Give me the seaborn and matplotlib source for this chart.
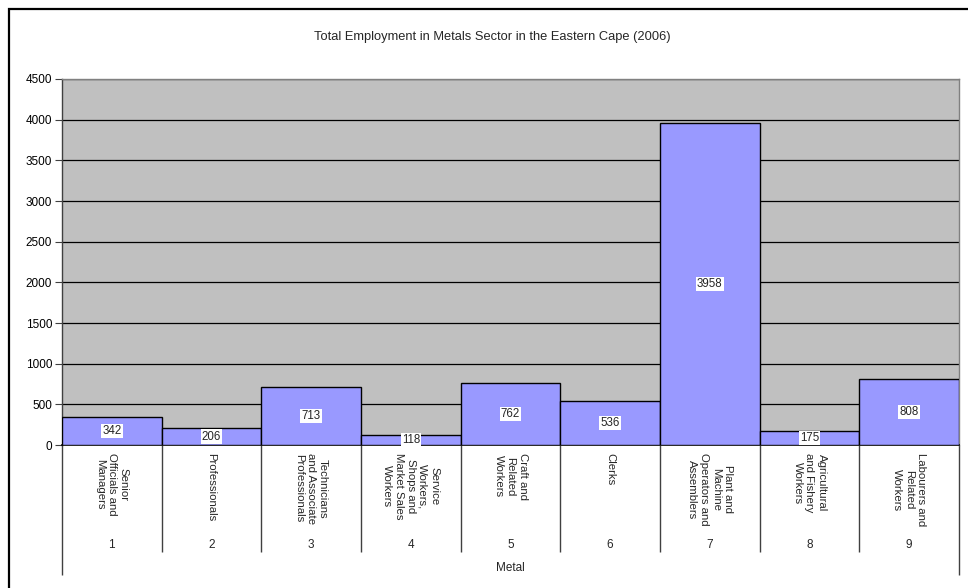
import matplotlib
matplotlib.use("Agg")
import matplotlib.pyplot as plt
import matplotlib.transforms as mtransforms
from matplotlib.patches import Rectangle
import seaborn as sns
import pandas as pd

# Occupation groups (major group codes) and employment counts
codes = ["1", "2", "3", "4", "5", "6", "7", "8", "9"]
occupations = [
    "Senior\nOfficials and\nManagers",
    "Professionals",
    "Technicians\nand Associate\nProfessionals",
    "Service\nWorkers,\nShops and\nMarket Sales\nWorkers",
    "Craft and\nRelated\nWorkers",
    "Clerks",
    "Plant and\nMachine\nOperators and\nAssemblers",
    "Agricultural\nand Fishery\nWorkers",
    "Labourers and\nRelated\nWorkers",
]
employment = [342, 206, 713, 118, 762, 536, 3958, 175, 808]
y_ticks = list(range(0, 4501, 500))

sns.set_theme(style="white")
plt.rcParams["font.family"] = ["Liberation Sans", "DejaVu Sans"]

W, H = 968, 588
fig = plt.figure(figsize=(W / 100, H / 100), dpi=100)
fig.patch.set_facecolor("white")
ax = fig.add_axes([62 / W, 1 - 445 / H, (959 - 62) / W, (445 - 79) / H])

df = pd.DataFrame({"code": codes, "employment": employment})
sns.barplot(data=df, x="code", y="employment", color="#9999FF", saturation=1,
            width=1, edgecolor="black", linewidth=1.0, ax=ax, zorder=3)

ax.set_facecolor("#C0C0C0")
ax.set_xlim(-0.5, len(codes) - 0.5)
ax.set_ylim(0, 4500)
ax.set_yticks(y_ticks)
ax.set_yticklabels([str(t) for t in y_ticks], fontsize=8.5, color="black")
ax.tick_params(axis="y", which="major", length=5, width=0.8, color="#404040",
               pad=2, left=True)
ax.set_xticks([])
ax.set_xlabel("")
ax.set_ylabel("")
ax.yaxis.grid(True, color="black", linewidth=0.9)
ax.set_axisbelow(True)
for side in ("top", "right"):
    ax.spines[side].set_color("#808080")
    ax.spines[side].set_linewidth(1.0)
ax.spines["left"].set_color("#404040")
ax.spines["left"].set_linewidth(1.0)
ax.spines["bottom"].set_color("black")
ax.spines["bottom"].set_linewidth(1.2)

# value labels in white boxes at mid-height of each bar
for i, v in enumerate(employment):
    ax.text(i, v / 2, str(v), ha="center", va="center", fontsize=8.3, zorder=5,
            bbox=dict(boxstyle="square,pad=0.1", fc="white", ec="none"))

# category label table below the axis
blend = mtransforms.blended_transform_factory(ax.transData, fig.transFigure)

def fy(py):
    return 1 - py / H

for i, (code, occ) in enumerate(zip(codes, occupations)):
    ax.text(i, fy(453), occ, transform=blend, rotation=-90, ha="center",
            va="top", multialignment="center", fontsize=8.2, clip_on=False,
            linespacing=1.25)
    ax.text(i, fy(545), code, transform=blend, ha="center", va="center",
            fontsize=8.5, clip_on=False)

for k in range(len(codes) + 1):
    xb = k - 0.5
    bottom = 575 if k in (0, len(codes)) else 552
    ax.plot([xb, xb], [fy(445), fy(bottom)], transform=blend, color="#404040",
            linewidth=1.0, clip_on=False, solid_capstyle="butt")

ax.text((len(codes) - 1) / 2, fy(568), "Metal", transform=blend, ha="center",
        va="center", fontsize=8.5, clip_on=False)

fig.text(492 / W, fy(37), "Total Employment in Metals Sector in the Eastern Cape (2006)",
         ha="center", va="center", fontsize=9.3)

# chart frame
fig.add_artist(Rectangle((9 / W, -0.1), 1.2, 1.1 - 9 / H, transform=fig.transFigure,
                         fill=False, edgecolor="black", linewidth=1.6))

fig.savefig("out.png", dpi=100)
